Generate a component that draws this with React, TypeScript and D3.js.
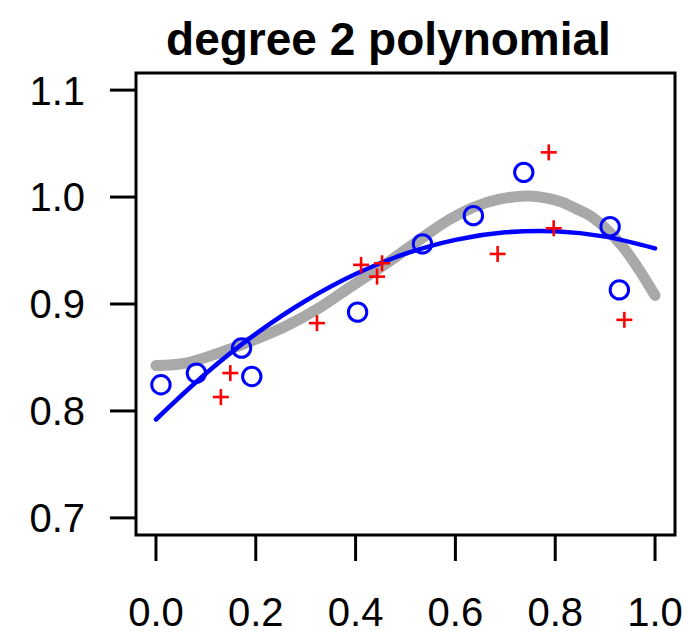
import React from "react";
import * as d3 from "d3";

const W = 688;
const H = 633;

const title = "degree 2 polynomial";
const xTicks = [0.0, 0.2, 0.4, 0.6, 0.8, 1.0];
const yTicks = [0.7, 0.8, 0.9, 1.0, 1.1];

// open circles (blue)
const circleX = [0.010, 0.081, 0.1715, 0.192, 0.404, 0.534, 0.636, 0.737, 0.910, 0.9285];
const circleY = [0.8245, 0.8354, 0.8588, 0.8322, 0.8924, 0.9562, 0.9826, 1.0231, 0.9723, 0.9132];

// plus signs (red)
const plusX = [0.130, 0.149, 0.3226, 0.411, 0.443, 0.453, 0.6846, 0.787, 0.797, 0.9385];
const plusY = [0.8130, 0.8354, 0.8821, 0.9366, 0.9256, 0.9381, 0.9468, 1.0418, 0.9708, 0.8852];

// true curve (thick gray)
const trueX = [0.0, 0.059, 0.125, 0.172, 0.259, 0.326, 0.393, 0.468, 0.534, 0.581, 0.634, 0.688, 0.748, 0.808, 0.842, 0.875, 0.935, 1.0];
const trueY = [0.8425, 0.8448, 0.854, 0.862, 0.879, 0.896, 0.917, 0.940, 0.962, 0.977, 0.990, 0.998, 1.001, 0.996, 0.989, 0.981, 0.9537, 0.908];

// fitted curve (blue)
const fitX = [0.0, 0.1, 0.2, 0.3, 0.4, 0.5, 0.6, 0.7, 0.8, 0.9, 1.0];
const fitY = [0.792, 0.835, 0.872, 0.903, 0.928, 0.947, 0.960, 0.967, 0.968, 0.963, 0.952];

export default function App() {
  const left = 136, right = 675, top = 73, bottom = 535;
  const x = d3.scaleLinear().domain([-0.04, 1.04]).range([left, right]);
  const y = d3.scaleLinear().domain([0.684, 1.116]).range([bottom, top]);

  const line = d3
    .line<[number, number]>()
    .x((d) => x(d[0]))
    .y((d) => y(d[1]))
    .curve(d3.curveCatmullRom.alpha(0.5));

  const trueData = trueX.map((v, i) => [v, trueY[i]] as [number, number]);
  const fitData = fitX.map((v, i) => [v, fitY[i]] as [number, number]);

  const font = "'Liberation Sans', Arial, Helvetica, sans-serif";
  const ps = 8;

  return (
    <svg width={W} height={H} style={{ position: "absolute", left: 0, top: 0, background: "#fff" }}>
      <rect x={0} y={0} width={W} height={H} fill="#fff" />
      <text x={388.5} y={55} textAnchor="middle" fontFamily={font} fontWeight="bold" fontSize={46} fill="#000">
        {title}
      </text>
      <path d={line(trueData) || ""} fill="none" stroke="#a9a9a9" strokeWidth={11} strokeLinecap="round" />
      <path d={line(fitData) || ""} fill="none" stroke="#0000ff" strokeWidth={4.5} strokeLinecap="round" />
      {circleX.map((v, i) => (
        <circle key={"c" + i} cx={x(v)} cy={y(circleY[i])} r={9.2} fill="none" stroke="#0000ff" strokeWidth={3} />
      ))}
      {plusX.map((v, i) => (
        <g key={"p" + i} stroke="#ff0000" strokeWidth={2.6}>
          <line x1={x(v) - ps} x2={x(v) + ps} y1={y(plusY[i])} y2={y(plusY[i])} />
          <line x1={x(v)} x2={x(v)} y1={y(plusY[i]) - ps} y2={y(plusY[i]) + ps} />
        </g>
      ))}
      <rect x={left} y={top} width={right - left} height={bottom - top} fill="none" stroke="#000" strokeWidth={3} />
      {yTicks.map((t) => (
        <g key={"y" + t}>
          <line x1={left - 26} x2={left} y1={y(t)} y2={y(t)} stroke="#000" strokeWidth={3} />
          <text x={85} y={y(t)} dy="0.36em" textAnchor="end" fontFamily={font} fontSize={40} fill="#000">
            {t.toFixed(1)}
          </text>
        </g>
      ))}
      {xTicks.map((t) => (
        <g key={"x" + t}>
          <line x1={x(t)} x2={x(t)} y1={bottom} y2={bottom + 26} stroke="#000" strokeWidth={3} />
          <text x={x(t)} y={626} textAnchor="middle" fontFamily={font} fontSize={40} fill="#000">
            {t.toFixed(1)}
          </text>
        </g>
      ))}
    </svg>
  );
}
